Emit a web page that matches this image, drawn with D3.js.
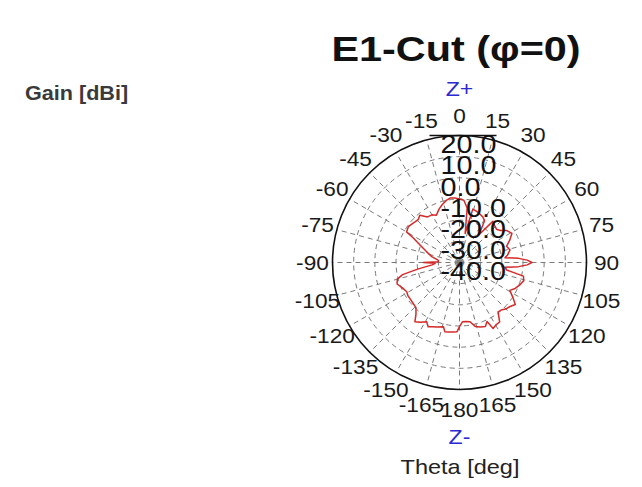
<!DOCTYPE html>
<html>
<head>
<meta charset="utf-8">
<script src="https://cdn.jsdelivr.net/npm/d3@7/dist/d3.min.js"></script>
<style>
  html, body { margin: 0; padding: 0; background: #fff; }
  svg { display: block; }
  text { font-family: "Liberation Sans", Arial, sans-serif; }
</style>
</head>
<body>
<svg id="chart" width="642" height="487"></svg>
<script>
// ---- data ----
const thetaDeg = [0, 4, 8, 11, 14, 18, 22, 27, 31, 35, 39, 44, 48, 52, 56, 61, 66, 71, 76, 81, 84, 86, 88, 90, 92, 94, 96, 99, 102, 106, 110, 115, 119, 123, 127, 131, 135, 138, 142, 146, 150, 153, 155, 158, 162, 166, 170, 174, 177, 180,
  -178, -175, -171, -168, -166, -161, -157, -154, -151, -147, -143, -140, -136, -131, -127, -123, -119, -114, -109, -105, -102, -99, -95, -92, -90, -88, -84, -78, -72, -66, -62, -60, -55, -50, -44, -40, -35, -30, -26, -21, -17, -12, -8, -4];
const gainDb = [-10, -10.5, -14, -26, -14, -14.5, -15, -15.8, -17, -24, -15, -16, -16.5, -15.5, -13, -11.7, -14, -16.5, -15.4, -17, -18.4, -12, -8, -5.8, -8, -12, -18.4, -17.4, -9.1, -8.5, -9.5, -11, -12.8, -10, -7, -8.3, -9, -10, -10.4, -6.1, -5.8, -5, -9.2, -7.4, -8, -8.8, -11.6, -12, -12, -9.7,
  -7.3, -7, -6.8, -6.6, -8.7, -7.8, -7, -6.2, -8, -6.3, -5, -8, -10.4, -10.8, -11, -11, -11.5, -10.5, -8.8, -9.6, -12.5, -20, -27, -28.5, -23, -30, -30, -26.6, -23.7, -19.6, -15.3, -11.1, -10.5, -11.2, -11.9, -10.8, -13.7, -14, -15.1, -13, -11.6, -10, -9.2, -9.5];
const angleTicks = [0, 15, 30, 45, 60, 75, 90, 105, 120, 135, 150, 165, 180, -165, -150, -135, -120, -105, -90, -75, -60, -45, -30, -15];
const angleTickLabels = ["0", "15", "30", "45", "60", "75", "90", "105", "120", "135", "150", "165", "180", "-165", "-150", "-135", "-120", "-105", "-90", "-75", "-60", "-45", "-30", "-15"];
const radialTicks = [20, 10, 0, -10, -20, -30, -40];
const radialTickLabels = ["20.0", "10.0", "0.0", "-10.0", "-20.0", "-30.0", "-40.0"];
const titleText = "E1-Cut (\u03C6=0)";
const yAxisTitle = "Gain [dBi]";
const xAxisTitle = "Theta [deg]";
const topDirLabel = "Z+";
const bottomDirLabel = "Z-";

// ---- layout ----
const svg = d3.select("#chart");
const cx = 459.5, cy = 262.5, R = 127;
const sx = 1.15; // horizontal text stretch seen in reference
const rScale = d3.scaleLinear().domain([-40, 20]).range([0, R]);
const rad = d => d * Math.PI / 180;

svg.append("rect").attr("width", 642).attr("height", 487).attr("fill", "#fff");

function stretchedText(parent, x, y, str, opts) {
  const g = parent.append("g").attr("transform", `translate(${x},${y}) scale(${opts.sx || sx},1)`);
  const t = g.append("text").text(str)
    .attr("font-size", opts.size)
    .attr("fill", opts.fill || "#111")
    .attr("text-anchor", opts.anchor || "middle");
  if (opts.weight) t.attr("font-weight", opts.weight);
  if (opts.baseline) t.attr("dominant-baseline", opts.baseline);
  return t;
}

// title and axis titles
stretchedText(svg, 456, 61, titleText, { size: 36, weight: "bold", fill: "#111" });
stretchedText(svg, 25, 100, yAxisTitle, { size: 20, weight: "bold", fill: "#3a3a3a", anchor: "start", sx: 1.08 });
stretchedText(svg, 460, 474, xAxisTitle, { size: 21, fill: "#222", sx: 1.12 });

const plot = svg.append("g").attr("transform", `translate(${cx},${cy})`);

// dashed grid circles
plot.selectAll("circle.grid")
  .data(radialTicks.filter(v => v > -40 && v < 20))
  .join("circle")
  .attr("class", "grid")
  .attr("r", d => rScale(d))
  .attr("fill", "none")
  .attr("stroke", "#7a7a7a")
  .attr("stroke-width", 1)
  .attr("stroke-dasharray", "5,4");

// dashed radial spokes
plot.selectAll("line.spoke")
  .data(angleTicks)
  .join("line")
  .attr("class", "spoke")
  .attr("x1", 0).attr("y1", 0)
  .attr("x2", d => rScale(20) * Math.sin(rad(d)))
  .attr("y2", d => -rScale(20) * Math.cos(rad(d)))
  .attr("stroke", "#7a7a7a")
  .attr("stroke-width", 1)
  .attr("stroke-dasharray", "5,4");

// outer circle
plot.append("circle")
  .attr("r", rScale(20))
  .attr("fill", "none")
  .attr("stroke", "#111")
  .attr("stroke-width", 1.6);
// short top bar
plot.append("line")
  .attr("x1", -30).attr("x2", 37)
  .attr("y1", -rScale(20)).attr("y2", -rScale(20))
  .attr("stroke", "#111").attr("stroke-width", 1.6);

// pattern curve
const pts = thetaDeg.map((t, i) => ({ t, g: gainDb[i] }));
const line = d3.lineRadial()
  .angle(d => rad(d.t))
  .radius(d => rScale(d.g))
  .curve(d3.curveLinearClosed);
plot.append("path")
  .datum(pts)
  .attr("d", line)
  .attr("fill", "none")
  .attr("stroke", "#d42a2a")
  .attr("stroke-width", 1.5)
  .attr("stroke-linejoin", "round");

// radial tick labels (stacked on the vertical axis)
radialTicks.forEach((v, i) => {
  stretchedText(plot, -19, -rScale(v), radialTickLabels[i], { size: 25, anchor: "start", baseline: "hanging", fill: "#111" });
});

// angle tick labels
const rLab = R + 20;
angleTicks.forEach((a, i) => {
  stretchedText(plot, rLab * Math.sin(rad(a)), -rLab * Math.cos(rad(a)), angleTickLabels[i],
    { size: 21, baseline: "central", fill: "#1a1a1a", sx: 1.08 });
});

// direction labels
stretchedText(plot, 0, -rLab - 27, topDirLabel, { size: 21, baseline: "central", fill: "#2a2ad0", sx: 1.1 });
stretchedText(plot, 0, rLab + 27, bottomDirLabel, { size: 21, baseline: "central", fill: "#2a2ad0", sx: 1.1 });
</script>
</body>
</html>
